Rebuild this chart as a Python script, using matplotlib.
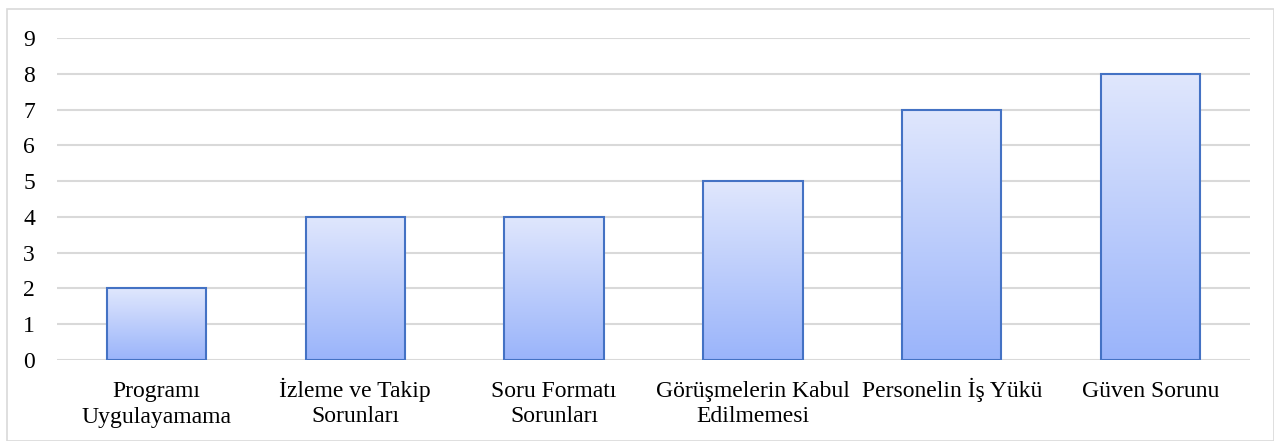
import numpy as np
import matplotlib.pyplot as plt
from matplotlib.colors import LinearSegmentedColormap
from matplotlib.patches import Rectangle

categories = ["Programı\nUygulayamama", "İzleme ve Takip\nSorunları", "Soru Formatı\nSorunları",
              "Görüşmelerin Kabul\nEdilmemesi", "Personelin İş Yükü", "Güven Sorunu"]
values = [2, 4, 4, 5, 7, 8]
yticks = list(range(0, 10))

plt.rcParams['font.family'] = ['Liberation Serif', 'DejaVu Serif']

fig = plt.figure(figsize=(12.74, 4.41), dpi=100)
ax = fig.add_axes([57 / 1274, 1 - 360 / 441, (1250 - 57) / 1274, (360 - 38) / 441])

# light frame around the whole chart
fig.patches.append(Rectangle((7 / 1274, 0), 1 - 7 / 1274, 1 - 9 / 441, transform=fig.transFigure,
                             fill=False, edgecolor='#d9d9d9', linewidth=1.2))

x = np.arange(len(categories))
bars = ax.bar(x, values, width=0.5, color='none', edgecolor='#4472c4', linewidth=1.5, zorder=3)

cmap = LinearSegmentedColormap.from_list('grad', ['#9ab4fa', '#e0e7fd'])
grad = np.linspace(0, 1, 256).reshape(-1, 1)
for b in bars:
    x0, w, h = b.get_x(), b.get_width(), b.get_height()
    im = ax.imshow(grad, cmap=cmap, origin='lower', aspect='auto',
                   extent=(x0, x0 + w, 0, h), zorder=2)
    im.set_clip_path(b)

# pad single-line labels to two lines so first lines share one baseline
labels = [c if '\n' in c else c + '\n ' for c in categories]

ax.set_xlim(-0.5, len(categories) - 0.5)
ax.set_ylim(0, 9)
ax.set_yticks(yticks)
ax.set_xticks(x)
ax.set_xticklabels(labels, fontsize=17, linespacing=1.3, va='baseline')
ax.tick_params(axis='y', labelsize=17, length=0, pad=20)
ax.tick_params(axis='x', length=0, pad=45)
for t in ax.get_yticklabels():
    t.set_horizontalalignment('center')
ax.grid(axis='y', color='#d9d9d9', linewidth=1.5, zorder=0)
for s in ax.spines.values():
    s.set_visible(False)

fig.savefig('out.png', dpi=100)
